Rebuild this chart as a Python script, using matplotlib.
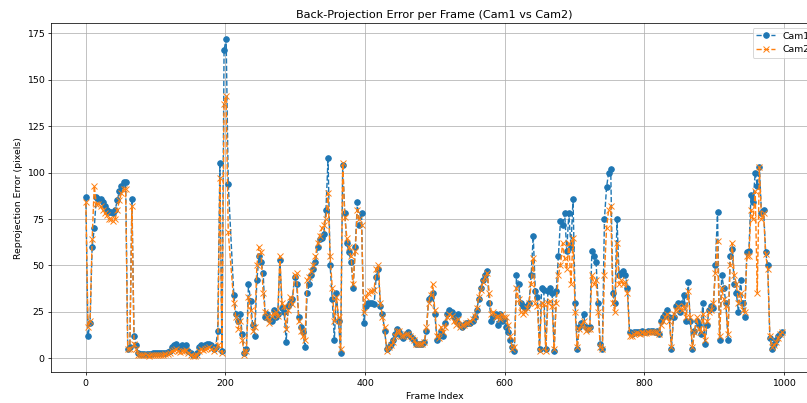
"""
Ошибка обратной проекции по кадрам для двух камер.

Запуск:
    python plot.py
Результат: out.png
"""
import matplotlib
matplotlib.use("Agg")
import matplotlib.pyplot as plt

# Индексы кадров (кадры 205-211 отсутствуют)
FRAMES = list(range(0, 205, 3)) + list(range(212, 1000, 3))

CAM1 = [
    # 0 .. 204
    87, 12, 19, 60, 70, 87, 86, 86, 84, 82,
    80, 79, 79, 78, 80, 85, 90, 93, 95, 95,
    5, 6, 86, 12, 7, 3, 2.5, 2.5, 2.5, 2.5,
    2.5, 2.6, 2.7, 2.8, 2.8, 2.9, 3.0, 3.0, 3.1, 3.2,
    4, 6, 7, 7.5, 6, 5, 7, 6.5, 7, 4,
    3, 2, 2, 3, 6, 7, 6, 7, 8, 8,
    7, 5, 6, 15, 105, 4, 166, 172, 94,
    # 212 .. 998
    34, 24, 20, 24, 13, 3, 5, 40, 31, 18,
    12, 42, 55, 52, 46, 22, 24, 21, 20, 26,
    22, 24, 53, 27, 25, 9, 28, 30, 32, 44,
    40, 22, 17, 14, 6, 35, 40, 45, 48, 52,
    60, 64, 65, 67, 80, 108, 50, 32, 10, 35,
    20, 3, 104, 78, 62, 57, 52, 38, 60, 84,
    72, 78, 19, 28, 30, 30, 30, 29, 44, 48,
    28, 24, 15, 5, 6, 8, 10, 13, 16, 14,
    12, 11, 13, 14, 12, 11, 10, 8, 7.5, 7.5,
    8, 9, 15, 32, 33, 35, 24, 10, 12, 15,
    12, 19, 24, 26, 25, 22, 20, 24, 18, 17,
    18, 19, 19, 19, 20, 22, 26, 32, 38, 42,
    45, 47, 30, 20, 22, 24, 18, 24, 20, 21,
    17, 14, 10, 6, 4, 45, 40, 30, 28, 27,
    28, 30, 45, 66, 36, 33, 5, 38, 37, 5,
    36, 38, 35, 4, 36, 55, 74, 72, 78, 58,
    78, 60, 86, 30, 5, 17, 19, 24, 17, 16,
    17, 58, 55, 52, 30, 8, 5, 75, 92, 100,
    102, 35, 30, 75, 45, 46, 47, 45, 38, 14,
    13, 14, 14, 14, 14, 14.5, 14, 14, 14.5, 15,
    15, 14, 15, 13, 20, 22, 24, 26, 22, 5,
    22, 28, 30, 25, 30, 34, 20, 41, 20, 5,
    15, 20, 18, 13, 30, 8, 18, 26, 28, 27,
    50, 79, 10, 45, 38, 30, 10, 55, 59, 40,
    35, 25, 42, 30, 22, 57, 58, 88, 84, 100,
    93, 103, 78, 80, 57, 50, 11, 5, 8, 10,
    12, 13, 14,
]

CAM2 = [
    # 0 .. 204
    84, 17, 20, 64, 93, 83, 83, 82, 80, 78,
    77, 75, 75, 74, 75, 80, 85, 89, 91, 91,
    5, 5, 82, 8, 5, 2, 1.8, 1.8, 1.8, 1.8,
    1.5, 1.6, 1.7, 1.8, 1.8, 1.9, 2.0, 2.0, 2.1, 2.2,
    3, 4, 4.5, 5, 4, 3.5, 4, 4, 4.5, 3,
    2, 1.5, 1.5, 2, 4, 5, 4.5, 5, 5.5, 6,
    5, 4, 5, 7, 97, 3, 137, 141, 68,
    # 212 .. 998
    30, 22, 16, 20, 10, 2, 4, 33, 26, 15,
    17, 50, 60, 57, 35, 25, 22, 19, 23, 24,
    25, 23, 55, 30, 28, 16, 26, 33, 29, 45,
    46, 20, 15, 12, 10, 42, 44, 47, 50, 55,
    62, 66, 70, 72, 75, 89, 55, 38, 20, 33,
    22, 5, 105, 76, 65, 60, 55, 40, 58, 80,
    75, 72, 25, 33, 35, 36, 36, 37, 48, 50,
    30, 22, 17, 4, 6, 7, 9, 12, 15, 15,
    12, 12, 13, 13, 12, 11, 10, 8, 7.5, 7.5,
    8, 9, 17, 30, 34, 40, 26, 12, 11, 17,
    14, 17, 22, 24, 23, 20, 18, 21, 17, 18,
    18, 19, 19, 20, 21, 23, 27, 33, 37, 41,
    44, 46, 35, 24, 25, 22, 23, 21, 24, 22,
    22, 18, 12, 5, 6, 38, 32, 25, 24, 25,
    27, 30, 40, 54, 30, 28, 4, 30, 29, 4,
    30, 31, 28, 5, 30, 45, 50, 62, 54, 48,
    62, 40, 65, 25, 6, 16, 18, 20, 15, 16,
    16, 45, 40, 42, 25, 6, 5, 45, 70, 80,
    82, 30, 25, 62, 40, 42, 40, 41, 35, 12,
    12, 13, 13.5, 13.5, 13, 14, 13.5, 13.5, 14, 14,
    14, 14, 14, 13, 18, 20, 22, 24, 20, 6,
    24, 26, 28, 27, 26, 28, 22, 36, 22, 6,
    14, 22, 16, 14, 24, 10, 20, 25, 26, 30,
    46, 63, 12, 38, 32, 28, 13, 50, 62, 45,
    40, 30, 35, 26, 25, 55, 55, 80, 75, 90,
    35, 103, 75, 78, 56, 48, 12, 6, 7, 9,
    11, 13, 14,
]


def plot_errors(save_path: str = "out.png") -> None:
    fig = plt.figure(figsize=(12, 403 / 67.25), dpi=67.25)
    ax = fig.add_axes([0.0632, 0.0762, 0.9504, 0.866])

    ax.plot(FRAMES, CAM1, marker="o", linestyle="--", label="Cam1")
    ax.plot(FRAMES, CAM2, marker="x", linestyle="--", label="Cam2")

    ax.set_title("Back-Projection Error per Frame (Cam1 vs Cam2)")
    ax.set_xlabel("Frame Index")
    ax.set_ylabel("Reprojection Error (pixels)")
    ax.set_xlim(-49.95, 1048.95)
    ax.set_ylim(-7.5, 180.4)
    ax.legend(loc="upper right")
    ax.grid(True)

    fig.savefig(save_path, dpi=67.25)


if __name__ == "__main__":
    plot_errors()
